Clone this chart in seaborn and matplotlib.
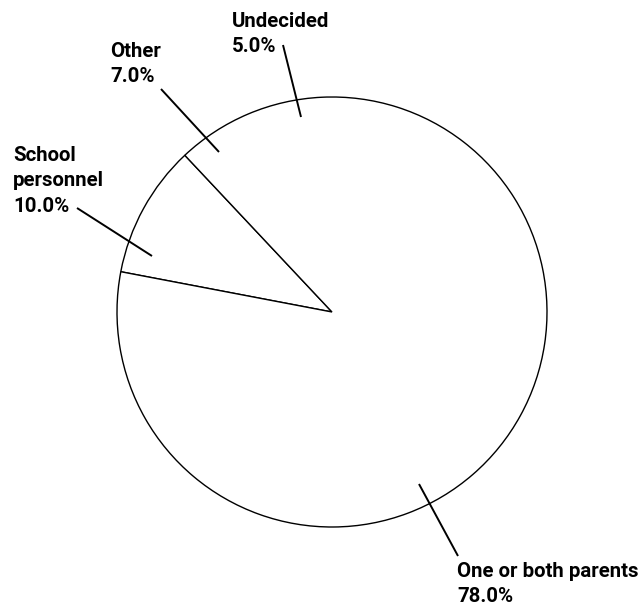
import matplotlib
matplotlib.use("Agg")
import matplotlib.pyplot as plt
import seaborn as sns
import numpy as np

categories = ["Undecided", "Other", "School personnel", "One or both parents"]
values = [5.0, 7.0, 10.0, 78.0]
label_texts = ["Undecided\n5.0%", "Other\n7.0%", "School\npersonnel\n10.0%", "One or both parents\n78.0%"]

sns.set_theme(style="white")
plt.rcParams['font.family'] = ['Roboto', 'DejaVu Sans']

W, H = 641, 606
fig = plt.figure(figsize=(W / 100, H / 100), dpi=100)
ax = fig.add_axes([0, 0, 1, 1])

cx, cy, r = 332, H - 312, 215

# white wedges of every category (no edges)
ax.pie(values, startangle=90, counterclock=True, radius=r, center=(cx, cy),
       colors=['white'] * len(values), wedgeprops=dict(linewidth=0), frame=True)

# outline: only the School personnel wedge boundaries and the circle
school_idx = categories.index("School personnel")
start = 90 + sum(values[:school_idx]) * 3.6
ax.pie([values[school_idx], 100 - values[school_idx]], startangle=start, counterclock=True,
       radius=r, center=(cx, cy), colors=['white', 'white'],
       wedgeprops=dict(linewidth=1.0, edgecolor='black'), frame=True)
ax.set_xlim(0, W)
ax.set_ylim(0, H)
ax.set_aspect('equal')
ax.axis('off')

# labels (pixel positions of text tops + leader lines)
label_pos = [(232, 12), (110, 42), (13, 146), (457, 562)]
leader = [((283, 45), (301, 117)), ((161, 89), (219, 152)),
          ((77, 208), (152, 256)), ((419, 484), (458, 556))]
for txt, (tx, ty), (p0, p1) in zip(label_texts, label_pos, leader):
    ax.text(tx, H - ty, txt, ha='left', va='top', fontsize=14.7,
            fontweight='bold', color='black', linespacing=1.42)
    ax.plot([p0[0], p1[0]], [H - p0[1], H - p1[1]], color='black', lw=1.4,
            solid_capstyle='butt')

fig.savefig("out.png", dpi=100, facecolor='white')
